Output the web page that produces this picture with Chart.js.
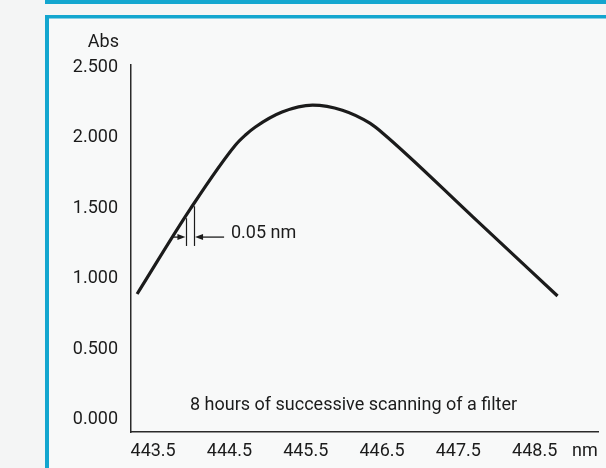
<!DOCTYPE html>
<html>
<head>
<meta charset="utf-8">
<script src="https://cdn.jsdelivr.net/npm/chart.js@4.4.1/dist/chart.umd.min.js"></script>
<style>
  html, body { margin: 0; padding: 0; background: #f4f5f5; }
  #wrap { width: 606px; height: 468px; position: relative; }
</style>
</head>
<body>
<div id="wrap"><canvas id="c" width="606" height="468"></canvas></div>
<script>
// Absorbance scan of a holmium filter band (wavelength in nm, absorbance)
const wavelengths = [443.29, 443.99, 444.58, 444.71, 444.84, 445.19, 445.59, 445.98, 446.34, 446.51, 447.69, 448.80];
const absorbance  = [0.892, 1.498, 1.950, 2.021, 2.078, 2.184, 2.233, 2.197, 2.105, 2.034, 1.440, 0.878];

const xTickValues = [443.5, 444.5, 445.5, 446.5, 447.5, 448.5];
const yTickValues = [0, 0.5, 1.0, 1.5, 2.0, 2.5];

// Bracket marking the 0.05 nm repeatability band on the rising edge
const bracketX = [443.93, 444.03];
const bracketTop = [1.43, 1.515];
const bracketBottom = 1.233;
const arrowY = 1.296;
const arrowFrom = [443.76, 444.43];
const bracketLabel = '0.05 nm';
const noteText = '8 hours of successive scanning of a filter';
const xUnit = 'nm';
const yUnit = 'Abs';

const FONT = 'Roboto, "Liberation Sans", sans-serif';
const INK = '#1b1b1b';
const BLUE = '#13a6cf';

const points = wavelengths.map((w, i) => ({ x: w, y: absorbance[i] }));

const framePlugin = {
  id: 'frame',
  beforeDraw(chart) {
    const ctx = chart.ctx;
    ctx.save();
    ctx.fillStyle = '#f4f5f5';
    ctx.fillRect(0, 0, 606, 468);
    ctx.fillStyle = '#f8f9f9';
    ctx.fillRect(49, 18, 557, 450);
    ctx.fillStyle = BLUE;
    // upper panel edge
    ctx.fillRect(45, 0, 561, 4);
    ctx.fillRect(45, 0, 4, 4);
    // chart panel edges
    ctx.fillRect(45, 15, 561, 3.5);
    ctx.fillRect(45, 15, 4, 453);
    ctx.restore();
  }
};

const notesPlugin = {
  id: 'notes',
  afterDraw(chart) {
    const ctx = chart.ctx;
    const xs = chart.scales.x, ys = chart.scales.y;
    ctx.save();
    ctx.fillStyle = INK;
    ctx.strokeStyle = INK;
    ctx.font = '18px ' + FONT;

    // axis units
    ctx.textBaseline = 'middle';
    ctx.textAlign = 'right';
    ctx.fillText(yUnit, 119, 42);
    ctx.textAlign = 'left';
    ctx.fillText(xUnit, 572, 451);

    // note inside the plot
    ctx.textAlign = 'left';
    ctx.font = '18px ' + FONT;
    ctx.fillText(noteText, 190, 405);

    // bracket lines
    ctx.lineWidth = 1.2;
    for (let i = 0; i < 2; i++) {
      const px = Math.round(xs.getPixelForValue(bracketX[i])) + 0.5;
      ctx.beginPath();
      ctx.moveTo(px, ys.getPixelForValue(bracketTop[i]));
      ctx.lineTo(px, ys.getPixelForValue(bracketBottom));
      ctx.stroke();
    }
    // arrows pointing at the bracket
    const ay = ys.getPixelForValue(arrowY);
    for (let i = 0; i < 2; i++) {
      const tip = xs.getPixelForValue(bracketX[i]) + (i === 0 ? -0.5 : 1.5);
      const tail = xs.getPixelForValue(arrowFrom[i]);
      const dir = i === 0 ? 1 : -1;
      ctx.lineWidth = 1.3;
      ctx.beginPath();
      ctx.moveTo(tail, ay);
      ctx.lineTo(tip - dir * 5, ay);
      ctx.stroke();
      ctx.beginPath();
      ctx.moveTo(tip, ay);
      ctx.lineTo(tip - dir * 8, ay - 3);
      ctx.lineTo(tip - dir * 8, ay + 3);
      ctx.closePath();
      ctx.fill();
    }
    ctx.font = '18px ' + FONT;
    ctx.textAlign = 'left';
    ctx.fillText(bracketLabel, 231, ys.getPixelForValue(arrowY) - 4);
    ctx.restore();
  }
};

new Chart(document.getElementById('c'), {
  type: 'line',
  data: {
    datasets: [{
      data: points,
      borderColor: INK,
      borderWidth: 3.2,
      pointRadius: 0,
      fill: false,
      cubicInterpolationMode: 'monotone'
    }]
  },
  options: {
    responsive: false,
    animation: false,
    events: [],
    layout: { padding: { left: 0, top: 65, right: 8, bottom: 0 } },
    plugins: { legend: { display: false }, tooltip: { enabled: false } },
    scales: {
      x: {
        type: 'linear',
        min: 443.21,
        max: 449.33,
        afterFit(s) { s.height = 36; },
        afterBuildTicks(s) { s.ticks = xTickValues.map(v => ({ value: v })); },
        grid: { display: false, drawTicks: false },
        border: { display: true, color: '#2a2a2a', width: 1.5 },
        ticks: {
          padding: 9,
          color: INK,
          font: { family: FONT, size: 18 },
          maxRotation: 0,
          autoSkip: false,
          callback: v => v.toFixed(1)
        }
      },
      y: {
        type: 'linear',
        min: -0.088,
        max: 2.518,
        afterFit(s) { s.width = 131; },
        afterBuildTicks(s) { s.ticks = yTickValues.map(v => ({ value: v })); },
        grid: { display: false, drawTicks: false },
        border: { display: true, color: '#2a2a2a', width: 1.5 },
        ticks: {
          padding: 13,
          color: INK,
          font: { family: FONT, size: 18 },
          autoSkip: false,
          callback: v => v.toFixed(3)
        }
      }
    }
  },
  plugins: [framePlugin, notesPlugin]
});
</script>
</body>
</html>
